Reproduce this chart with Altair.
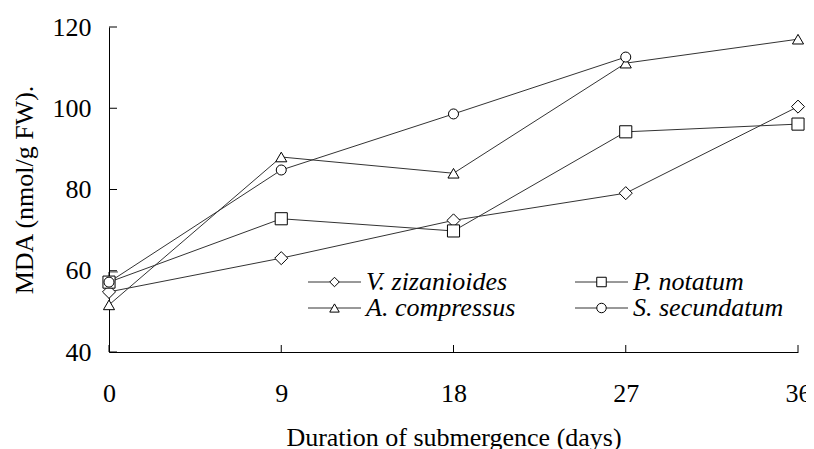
import altair as alt
import pandas as pd

days = [0, 9, 18, 27, 36]
species = ["V. zizanioides", "P. notatum", "A. compressus", "S. secundatum"]
v_ziz = [54.8, 63.1, 72.4, 79.1, 100.4]
p_not = [57.2, 72.8, 69.8, 94.2, 96.1]
a_com = [51.6, 88.0, 84.0, 111.1, 117.0]
s_sec = [57.2, 84.8, 98.6, 112.6, None]
s_sec_err_day0 = 2.5

y_ticks = [40, 60, 80, 100, 120]
x_ticks = [0, 9, 18, 27, 36]

shapes = ["diamond", "square", "triangle-up", "circle"]
marker_sizes = [170, 100, 170, 135]
marker_strokes = [1, 1, 1, 1.8]

rows = []
for name, vals in zip(species, [v_ziz, p_not, a_com, s_sec]):
    for d, v in zip(days, vals):
        if v is not None:
            rows.append({"day": d, "mda": v, "species": name})
df = pd.DataFrame(rows)
leg_df = pd.DataFrame({"species": species, "idx": list(range(len(species)))})

FONT = "Liberation Serif"
FS = 26

xs = alt.Scale(domain=[0, 36], nice=False)
ys = alt.Scale(domain=[40, 120], nice=False)
shape_scale = alt.Scale(domain=species, range=shapes)
size_scale = alt.Scale(domain=species, range=marker_sizes)
sw_scale = alt.Scale(domain=species, range=marker_strokes)

x_enc = alt.X("day:Q", scale=xs, title="Duration of submergence (days)",
              axis=alt.Axis(values=x_ticks, ticks=False, tickSize=0, labelPadding=28,
                            titlePadding=18, grid=False, domainColor="black",
                            labelFont=FONT, titleFont=FONT, labelFontSize=FS,
                            titleFontSize=FS, labelColor="black", titleColor="black",
                            titleFontWeight="normal", labelFlush=False))
y_enc = alt.Y("mda:Q", scale=ys, title="MDA (nmol/g FW).",
              axis=alt.Axis(values=y_ticks, ticks=False, tickSize=0, labelPadding=18,
                            titlePadding=15, grid=False, domainColor="black",
                            labelFont=FONT, titleFont=FONT, labelFontSize=FS,
                            titleFontSize=FS, labelColor="black", titleColor="black",
                            titleFontWeight="normal", labelFlush=False))

lines = alt.Chart(df).mark_line(color="#333333", strokeWidth=1).encode(
    x=x_enc, y=y_enc, detail="species:N")

points = alt.Chart(df).mark_point(filled=False, fill="white", stroke="black", opacity=1).encode(
    x="day:Q", y="mda:Q",
    shape=alt.Shape("species:N", scale=shape_scale, legend=None),
    size=alt.Size("species:N", scale=size_scale, legend=None),
    strokeWidth=alt.StrokeWidth("species:N", scale=sw_scale, legend=None))

# legend (2 x 2, drawn in pixel space inside the plot)
leg_base = alt.Chart(leg_df).transform_calculate(
    col="datum.idx % 2", row="floor(datum.idx / 2)"
).transform_calculate(
    lx0="199 + datum.col * 267", lx1="252 + datum.col * 267",
    px="225.5 + datum.col * 267", tx="257 + datum.col * 267",
    ly="255 + datum.row * 26")

leg_line = leg_base.mark_rule(color="#333333", strokeWidth=1).encode(
    x=alt.X("lx0:Q", scale=None), x2="lx1:Q", y=alt.Y("ly:Q", scale=None))
leg_pt = leg_base.mark_point(filled=False, fill="white", stroke="black", opacity=1,
                             size=90).encode(
    x=alt.X("px:Q", scale=None), y=alt.Y("ly:Q", scale=None),
    shape=alt.Shape("species:N", scale=shape_scale, legend=None),
    strokeWidth=alt.StrokeWidth("species:N", scale=sw_scale, legend=None))
leg_txt = leg_base.mark_text(align="left", baseline="middle", font=FONT, fontSize=FS,
                             fontStyle="italic", color="black").encode(
    x=alt.X("tx:Q", scale=None), y=alt.Y("ly:Q", scale=None), text="species:N")

err_df = pd.DataFrame({"day": [days[0]], "lo": [s_sec[0]], "hi": [s_sec[0] + s_sec_err_day0]})
err_rule = alt.Chart(err_df).mark_rule(color="black", strokeWidth=1).encode(
    x="day:Q", y="lo:Q", y2="hi:Q")
err_cap = alt.Chart(err_df).mark_tick(color="black", thickness=1, size=18, clip=True,
                                      orient="horizontal").encode(x="day:Q", y="hi:Q")

ytick_df = pd.DataFrame({"v": y_ticks})
ytick = alt.Chart(ytick_df).mark_rule(color="black", strokeWidth=1).encode(
    y="v:Q", x=alt.value(0), x2=alt.value(8))
xtick_df = pd.DataFrame({"v": x_ticks})
xtick = alt.Chart(xtick_df).mark_rule(color="black", strokeWidth=1).encode(
    x="v:Q", y=alt.value(325), y2=alt.value(318))

chart = alt.layer(lines, err_rule, err_cap, points, leg_line, leg_pt, leg_txt,
                  ytick, xtick).properties(
    width=689, height=325,
    autosize=alt.AutoSizeParams(type="none"),
    padding={"left": 101, "top": 19, "right": 8, "bottom": 97},
    background="white",
).configure_view(stroke=None)

chart.save("out.html", embed_options={"renderer": "svg", "actions": False})
